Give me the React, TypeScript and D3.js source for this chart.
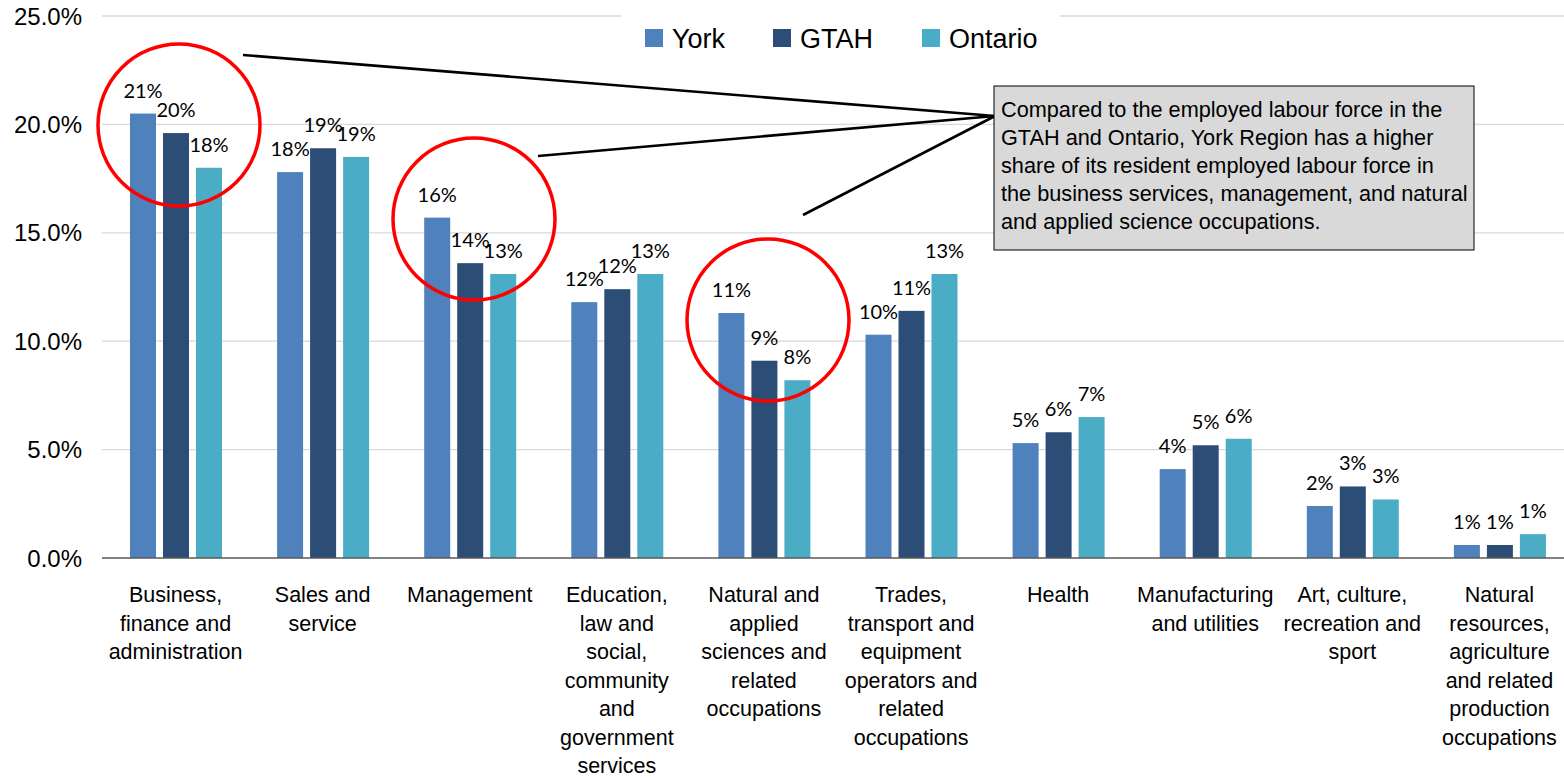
import * as d3 from 'd3';

const categories = [
  ['Business,', 'finance and', 'administration'],
  ['Sales and', 'service'],
  ['Management'],
  ['Education,', 'law and', 'social,', 'community', 'and', 'government', 'services'],
  ['Natural and', 'applied', 'sciences and', 'related', 'occupations'],
  ['Trades,', 'transport and', 'equipment', 'operators and', 'related', 'occupations'],
  ['Health'],
  ['Manufacturing', 'and utilities'],
  ['Art, culture,', 'recreation and', 'sport'],
  ['Natural', 'resources,', 'agriculture', 'and related', 'production', 'occupations'],
];

const seriesNames = ['York', 'GTAH', 'Ontario'];
const york = [20.5, 17.8, 15.7, 11.8, 11.3, 10.3, 5.3, 4.1, 2.4, 0.6];
const gtah = [19.6, 18.9, 13.6, 12.4, 9.1, 11.4, 5.8, 5.2, 3.3, 0.6];
const ontario = [18.0, 18.5, 13.1, 13.1, 8.2, 13.1, 6.5, 5.5, 2.7, 1.1];
const yTicks = [0, 5, 10, 15, 20, 25];

const calloutLines = [
  'Compared to the employed labour force in the',
  'GTAH and Ontario, York Region has a higher',
  'share of its resident employed labour force in',
  'the business services, management, and natural',
  'and applied science occupations.',
];

// highlighted groups: category index
const highlighted = [0, 2, 4];

const colors = ['#4f81bd', '#2c4d75', '#4bacc6'];
const values = [york, gtah, ontario];

const W = 1564;
const H = 778;
const margin = { top: 16, left: 102, bottom: 220 };
const plotRight = 1573;

export default function App() {
  const keys = categories.map((c) => c.join(' '));
  const x0 = d3.scaleBand().domain(keys).range([margin.left, plotRight]).paddingInner(0).paddingOuter(0);
  const x1 = d3
    .scaleBand()
    .domain(seriesNames)
    .range([28, 120])
    .paddingInner(7 / 33)
    .paddingOuter(0);
  const y = d3.scaleLinear().domain([0, 25]).range([H - margin.bottom, margin.top]);
  const y0 = y(0);

  const anchor = { x: 995, y: 116 };
  const pointers = [
    { x: 243, y: 55 },
    { x: 538, y: 156 },
    { x: 803, y: 215 },
  ];
  const circles = [
    { dx: 179, dy: 125 },
    { dx: 474, dy: 219 },
    { dx: 768, dy: 320 },
  ];

  return (
    <svg width={W} height={H} style={{ position: 'absolute', left: 0, top: 0 }}>
      <rect width={W} height={H} fill="#fff" />
      {yTicks.map((t) => (
        <g key={t}>
          {t > 0 && (
            <line x1={margin.left} x2={W} y1={y(t)} y2={y(t)} stroke="#d9d9d9" strokeWidth={1.3} />
          )}
          <text
            x={82}
            y={y(t)}
            dy="0.36em"
            textAnchor="end"
            fontFamily="Liberation Sans, Arial, sans-serif"
            fontSize={24}
            fill="#000"
          >
            {t.toFixed(1) + '%'}
          </text>
        </g>
      ))}
      {/* legend background hides the top gridline */}
      <rect x={621} y={0} width={439} height={60} fill="#fff" />
      {seriesNames.map((s, i) => {
        const lx = [645, 773, 922][i];
        return (
          <g key={s}>
            <rect x={lx} y={29} width={18} height={18} fill={colors[i]} />
            <text
              x={lx + 27}
              y={48}
              fontFamily="Liberation Sans, Arial, sans-serif"
              fontSize={27}
              fill="#000"
            >
              {s}
            </text>
          </g>
        );
      })}
      {keys.map((k, ci) => (
        <g key={k} transform={`translate(${x0(k)},0)`}>
          {seriesNames.map((s, si) => {
            const v = values[si][ci];
            const bx = x1(s) as number;
            return (
              <g key={s}>
                <rect x={bx} y={y(v)} width={x1.bandwidth()} height={y0 - y(v)} fill={colors[si]} />
                <text
                  x={bx + x1.bandwidth() / 2}
                  y={y(v) - 16}
                  textAnchor="middle"
                  fontFamily="Lato, Open Sans, sans-serif"
                  fontSize={20}
                  fill="#000"
                >
                  {Math.round(v) + '%'}
                </text>
              </g>
            );
          })}
          <text
            x={x0.bandwidth() / 2}
            y={602}
            textAnchor="middle"
            fontFamily="Liberation Sans, Arial, sans-serif"
            fontSize={21.5}
            fill="#000"
          >
            {categories[ci].map((line, li) => (
              <tspan key={li} x={x0.bandwidth() / 2} dy={li === 0 ? 0 : 28.5}>
                {line}
              </tspan>
            ))}
          </text>
        </g>
      ))}
      <line x1={margin.left} x2={W} y1={y0} y2={y0} stroke="#595959" strokeWidth={1.5} />
      {highlighted.map((ci, i) => (
        <circle
          key={ci}
          cx={circles[i].dx}
          cy={circles[i].dy}
          r={81}
          fill="none"
          stroke="#ff0000"
          strokeWidth={3.5}
        />
      ))}
      {pointers.map((p, i) => (
        <line key={i} x1={p.x} y1={p.y} x2={anchor.x} y2={anchor.y} stroke="#000" strokeWidth={2.6} />
      ))}
      <rect x={994} y={86} width={480} height={164} fill="#d9d9d9" stroke="#000" strokeWidth={1} />
      <text fontFamily="Liberation Sans, Arial, sans-serif" fontSize={21.7} fill="#000">
        {calloutLines.map((l, i) => (
          <tspan key={i} x={1001} y={117 + i * 28}>
            {l}
          </tspan>
        ))}
      </text>
    </svg>
  );
}
